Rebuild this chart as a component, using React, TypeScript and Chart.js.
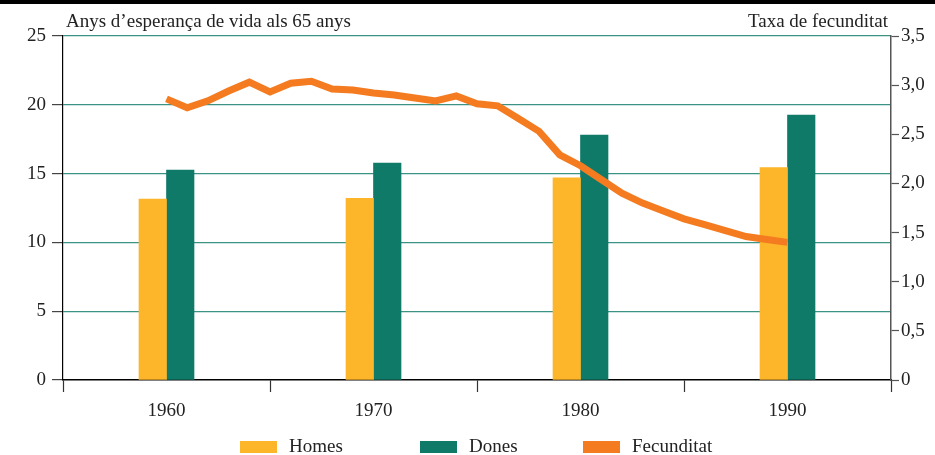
import React, { useEffect, useRef } from 'react';
import { Chart, registerables } from 'chart.js';

Chart.register(...registerables);

// ---- data ----
const decades = [1960, 1970, 1980, 1990];
const homes = [13.15, 13.2, 14.7, 15.43];
const dones = [15.26, 15.77, 17.8, 19.26];

const fertilityYears = [
  1960, 1961, 1962, 1963, 1964, 1965, 1966, 1967, 1968, 1969,
  1970, 1971, 1972, 1973, 1974, 1975, 1976, 1977, 1978, 1979,
  1980, 1981, 1982, 1983, 1984, 1985, 1986, 1987, 1988, 1989, 1990,
];
const fertility = [
  2.86, 2.77, 2.84, 2.94, 3.03, 2.93, 3.02, 3.04, 2.96, 2.95,
  2.92, 2.9, 2.87, 2.84, 2.89, 2.81, 2.79, 2.66, 2.53, 2.29,
  2.18, 2.04, 1.9, 1.8, 1.72, 1.64, 1.58, 1.52, 1.46, 1.43, 1.4,
];

const xBoundaryYears = [1955, 1965, 1975, 1985, 1995];
const leftTicks = [0, 5, 10, 15, 20, 25];
const rightTicks = [0, 0.5, 1, 1.5, 2, 2.5, 3, 3.5];

const seriesLabels = ['Homes', 'Dones', 'Fecunditat'];
const titleLeft = 'Anys d\u2019esperança de vida als 65 anys';
const titleRight = 'Taxa de fecunditat';

// ---- styles ----
const FONT = '"Liberation Serif", "Times New Roman", serif';
const FONT_SIZE = 19;
const TEXT_COLOR = '#222';
const COLORS = ['#FDB52A', '#107A69', '#F47B20'];
const GRID_COLOR = '#3a9384';
const LEGEND_BOX_X = [240, 420, 583];

const decorPlugin = {
  id: 'decor',
  afterDraw(chart: any) {
    const ctx = chart.ctx;
    const { left, right, top } = chart.chartArea;
    ctx.save();
    ctx.fillStyle = '#000';
    ctx.fillRect(0, 0, chart.width, 4);

    ctx.font = `${FONT_SIZE}px ${FONT}`;
    ctx.fillStyle = TEXT_COLOR;
    ctx.textBaseline = 'alphabetic';
    ctx.textAlign = 'left';
    ctx.fillText(titleLeft, left + 3, top - 9);
    ctx.textAlign = 'right';
    ctx.fillText(titleRight, right - 3, top - 9);

    // legend
    const cy = 447;
    chart.data.datasets.forEach((ds: any, i: number) => {
      const bx = LEGEND_BOX_X[i];
      ctx.fillStyle = ds.backgroundColor;
      ctx.fillRect(bx, cy - 6, 37, 12);
      ctx.fillStyle = TEXT_COLOR;
      ctx.textAlign = 'left';
      ctx.textBaseline = 'middle';
      ctx.fillText(ds.label, bx + 49, cy);
    });
    ctx.restore();
  },
};

export default function App() {
  const ref = useRef<HTMLCanvasElement | null>(null);

  useEffect(() => {
    if (!ref.current) return;
    const tickFont = { family: FONT, size: FONT_SIZE };
    const chart = new Chart(ref.current, {
      type: 'bar',
      data: {
        datasets: [
          {
            type: 'bar',
            label: seriesLabels[0],
            data: decades.map((x, i) => ({ x, y: homes[i] })),
            backgroundColor: COLORS[0],
            yAxisID: 'y',
            xAxisID: 'x',
            order: 2,
            barThickness: 27.5,
          },
          {
            type: 'bar',
            label: seriesLabels[1],
            data: decades.map((x, i) => ({ x, y: dones[i] })),
            backgroundColor: COLORS[1],
            yAxisID: 'y',
            xAxisID: 'x',
            order: 2,
            barThickness: 27.5,
          },
          {
            type: 'line',
            label: seriesLabels[2],
            data: fertilityYears.map((x, i) => ({ x, y: fertility[i] })),
            borderColor: COLORS[2],
            backgroundColor: COLORS[2],
            borderWidth: 7,
            pointRadius: 0,
            tension: 0,
            fill: false,
            yAxisID: 'y2',
            xAxisID: 'x',
            order: 1,
          },
        ] as any,
      },
      options: {
        animation: false,
        responsive: false,
        layout: { padding: { top: 36, left: 0, right: 0, bottom: 0 } },
        plugins: { legend: { display: false }, tooltip: { enabled: false } },
        scales: {
          x: {
            type: 'linear',
            position: 'bottom',
            min: 1955,
            max: 1995,
            offset: false,
            afterBuildTicks: (s: any) => {
              s.ticks = [...xBoundaryYears, ...decades]
                .sort((a, b) => a - b)
                .map((v) => ({ value: v }));
            },
            afterFit: (s: any) => {
              s.height = 75;
            },
            grid: {
              offset: false,
              drawOnChartArea: false,
              tickLength: 12,
              tickWidth: 1.2,
              tickColor: (c: any) =>
                c.tick && xBoundaryYears.includes(c.tick.value) ? '#333' : 'rgba(0,0,0,0)',
            },
            border: { color: '#000', width: 1.5 },
            ticks: {
              autoSkip: false,
              maxRotation: 0,
              padding: 8,
              font: tickFont,
              color: TEXT_COLOR,
              callback: (v: any) => (decades.includes(Number(v)) ? String(v) : ''),
            },
          },
          y: {
            type: 'linear',
            position: 'left',
            min: 0,
            max: 25,
            afterBuildTicks: (s: any) => {
              s.ticks = leftTicks.map((v) => ({ value: v }));
            },
            afterFit: (s: any) => {
              s.width = 63;
            },
            grid: {
              color: (c: any) => (c.tick && c.tick.value === 0 ? 'rgba(0,0,0,0)' : GRID_COLOR),
              lineWidth: 1.2,
              tickColor: '#444',
              tickLength: 11,
              tickWidth: 1.2,
            },
            border: { color: '#000', width: 1.2 },
            ticks: { font: tickFont, color: TEXT_COLOR, padding: 6 },
          },
          y2: {
            type: 'linear',
            position: 'right',
            min: 0,
            max: 3.5,
            afterBuildTicks: (s: any) => {
              s.ticks = rightTicks.map((v) => ({ value: v }));
            },
            afterFit: (s: any) => {
              s.width = 44;
            },
            grid: {
              drawOnChartArea: false,
              tickColor: '#555',
              tickLength: 8,
              tickWidth: 1.2,
            },
            border: { color: '#555', width: 1.5 },
            ticks: {
              font: tickFont,
              color: TEXT_COLOR,
              padding: 2,
              callback: (v: any) =>
                Number(v) === 0 ? '0' : Number(v).toFixed(1).replace('.', ','),
            },
          },
        },
      } as any,
      plugins: [decorPlugin],
    });
    return () => chart.destroy();
  }, []);

  return (
    <div style={{ position: 'fixed', left: 0, top: 0, width: 935, height: 455, background: '#fff' }}>
      <canvas ref={ref} width={935} height={455} style={{ display: 'block', width: 935, height: 455 }} />
    </div>
  );
}
